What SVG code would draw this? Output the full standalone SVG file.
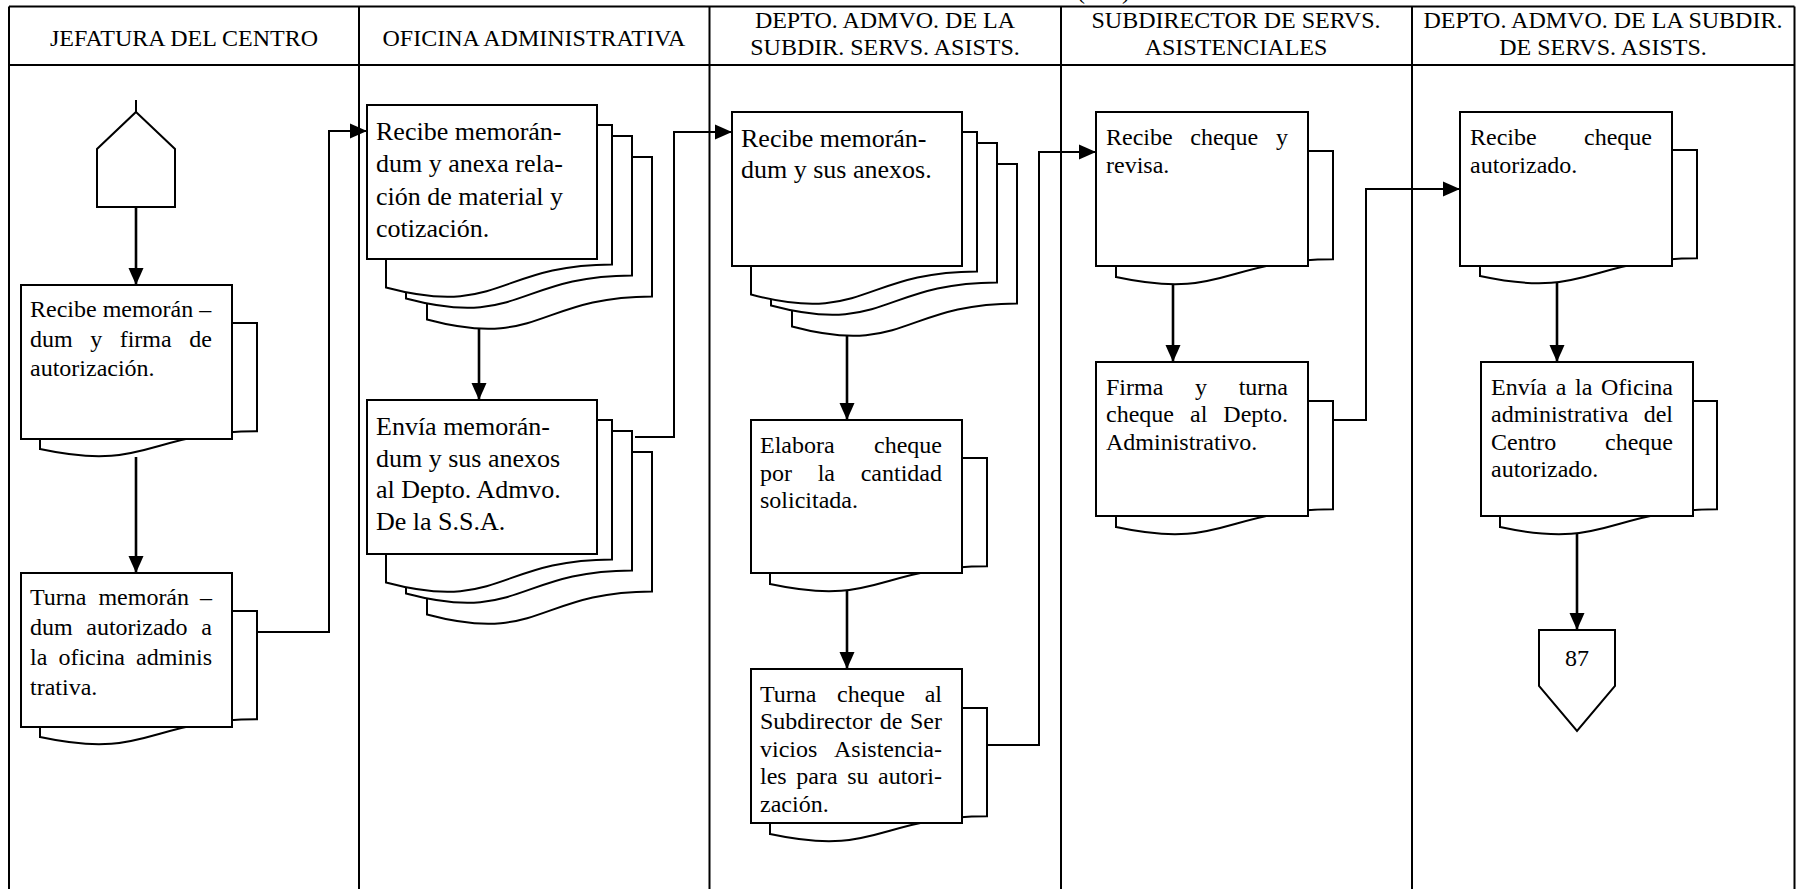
<svg xmlns="http://www.w3.org/2000/svg" width="1797" height="889" viewBox="0 0 1797 889">
<style>
.lane{fill:none;stroke:#000;stroke-width:2}
.box{fill:#fff;stroke:#000;stroke-width:2}
.conn{fill:none;stroke:#000;stroke-width:2}
.arr{fill:none;stroke:#000;stroke-width:2.6}
text{font-family:"Liberation Serif","Times New Roman",serif;fill:#000}
.th{font-size:24px;text-anchor:middle}
.t{font-size:24px}
.tb{font-size:26px}
</style>
<defs>
<marker id="ah" markerUnits="userSpaceOnUse" markerWidth="19" markerHeight="16" refX="17" refY="8" orient="auto">
<path d="M0,0.5 L17,8 L0,15.5 Z" fill="#000"/>
</marker>
</defs>
<rect width="1797" height="889" fill="#fff"/>
<g id="table">
<path class="lane" d="M9,6.5 H1794.5 M9,65 H1794.5 M9,6.5 V889 M359,6.5 V889 M709.5,6.5 V889 M1061,6.5 V889 M1412,6.5 V889 M1794.5,6.5 V889"/>
<text class="th" x="184" y="46">JEFATURA DEL CENTRO</text>
<text class="th" x="534" y="46">OFICINA ADMINISTRATIVA</text>
<text class="th" x="885" y="28">DEPTO. ADMVO. DE LA</text>
<text class="th" x="885" y="55">SUBDIR. SERVS. ASISTS.</text>
<text class="th" x="1236" y="28">SUBDIRECTOR DE SERVS.</text>
<text class="th" x="1236" y="55">ASISTENCIALES</text>
<text class="th" x="1603" y="28">DEPTO. ADMVO. DE LA SUBDIR.</text>
<text class="th" x="1603" y="55">DE SERVS. ASISTS.</text>
<text class="t" x="1077" y="-1">(<tspan x="1122">)</tspan></text>
</g>
<g id="connectors">
<path class="conn" d="M136,100 V116"/>
<path class="arr" d="M136,207 V285" marker-end="url(#ah)"/>
<path class="arr" d="M136,457 V573" marker-end="url(#ah)"/>
<path class="conn" d="M251,632 H329 V131 H367" marker-end="url(#ah)"/>
<path class="arr" d="M479,328 V400" marker-end="url(#ah)"/>
<path class="conn" d="M635,437 H674 V132 H732" marker-end="url(#ah)"/>
<path class="arr" d="M847,336 V420" marker-end="url(#ah)"/>
<path class="arr" d="M847,591 V669" marker-end="url(#ah)"/>
<path class="conn" d="M987,745 H1039 V152 H1096" marker-end="url(#ah)"/>
<path class="arr" d="M1173,284 V362" marker-end="url(#ah)"/>
<path class="conn" d="M1333,420 H1366 V189 H1460" marker-end="url(#ah)"/>
<path class="arr" d="M1557,283 V362" marker-end="url(#ah)"/>
<path class="arr" d="M1577,533 V630" marker-end="url(#ah)"/>
</g>
<g id="start">
<path class="box" d="M136,112 L175,149 V207 H97 V149 Z"/>
</g>
<g id="n1">
<path class="box" d="M40,323 H257 V431.3 C148.5,431.3 148.5,472.5 40,449.1 Z"/>
<rect class="box" x="21" y="285" width="211" height="154"/>
<text class="t" y="317"><tspan x="30">Recibe memorán –</tspan></text>
<text class="t" y="346.5"><tspan x="30">dum</tspan><tspan x="90.2">y</tspan><tspan x="119.7">firma</tspan><tspan x="189.3">de</tspan></text>
<text class="t" x="30" y="376">autorización.</text>
</g>
<g id="n2">
<path class="box" d="M40,611 H257 V719.3 C148.5,719.3 148.5,760.5 40,737.1 Z"/>
<rect class="box" x="21" y="573" width="211" height="154"/>
<text class="t" y="605"><tspan x="30">Turna</tspan><tspan x="98.4">memorán</tspan><tspan x="200">–</tspan></text>
<text class="t" y="635"><tspan x="30">dum</tspan><tspan x="86.3">autorizado</tspan><tspan x="201.3">a</tspan></text>
<text class="t" y="665"><tspan x="30">la</tspan><tspan x="58.4">oficina</tspan><tspan x="136">adminis</tspan></text>
<text class="t" x="30" y="695">trativa.</text>
</g>
<g id="n3">
<path class="box" d="M427,157 H652 V296.5 C539.5,296.5 539.5,349.7 427,319.5 Z"/>
<path class="box" d="M406,136 H632 V275.5 C519,275.5 519,328.7 406,298.5 Z"/>
<path class="box" d="M386,125 H612 V264.5 C499,264.5 499,317.7 386,287.5 Z"/>
<rect class="box" x="367" y="105" width="230" height="154"/>
<text class="tb" x="376" y="140">Recibe memorán-</text>
<text class="tb" x="376" y="172">dum y anexa rela-</text>
<text class="tb" x="376" y="204.5">ción de material y</text>
<text class="tb" x="376" y="237">cotización.</text>
</g>
<g id="n4">
<path class="box" d="M427,452 H652 V591.5 C539.5,591.5 539.5,644.7 427,614.5 Z"/>
<path class="box" d="M406,431 H632 V570.5 C519,570.5 519,623.7 406,593.5 Z"/>
<path class="box" d="M386,420 H612 V559.5 C499,559.5 499,612.7 386,582.5 Z"/>
<rect class="box" x="367" y="400" width="230" height="154"/>
<text class="tb" x="376" y="435">Envía memorán-</text>
<text class="tb" x="376" y="466.5">dum y sus anexos</text>
<text class="tb" x="376" y="498">al Depto. Admvo.</text>
<text class="tb" x="376" y="529.5">De la S.S.A.</text>
</g>
<g id="n5">
<path class="box" d="M792,164 H1017 V303.5 C904.5,303.5 904.5,356.7 792,326.5 Z"/>
<path class="box" d="M771,143 H997 V282.5 C884,282.5 884,335.7 771,305.5 Z"/>
<path class="box" d="M751,132 H977 V271.5 C864,271.5 864,324.7 751,294.5 Z"/>
<rect class="box" x="732" y="112" width="230" height="154"/>
<text class="tb" x="741" y="146.5">Recibe memorán-</text>
<text class="tb" x="741" y="177.5">dum y sus anexos.</text>
</g>
<g id="n6">
<path class="box" d="M770,458 H987 V566.3 C878.5,566.3 878.5,607.5 770,584.1 Z"/>
<rect class="box" x="751" y="420" width="211" height="153"/>
<text class="t" y="453"><tspan x="760">Elabora</tspan><tspan x="874">cheque</tspan></text>
<text class="t" y="481"><tspan x="760">por</tspan><tspan x="817.7">la</tspan><tspan x="860.7">cantidad</tspan></text>
<text class="t" x="760" y="508">solicitada.</text>
</g>
<g id="n7">
<path class="box" d="M770,708 H987 V816.3 C878.5,816.3 878.5,857.5 770,834.1 Z"/>
<rect class="box" x="751" y="669" width="211" height="154"/>
<text class="t" y="702"><tspan x="760">Turna</tspan><tspan x="837">cheque</tspan><tspan x="924.7">al</tspan></text>
<text class="t" y="729"><tspan x="760">Subdirector</tspan><tspan x="879.7">de</tspan><tspan x="910">Ser</tspan></text>
<text class="t" y="757"><tspan x="760">vicios</tspan><tspan x="834">Asistencia-</tspan></text>
<text class="t" y="784"><tspan x="760">les</tspan><tspan x="796.3">para</tspan><tspan x="847.2">su</tspan><tspan x="878">autori-</tspan></text>
<text class="t" x="760" y="812">zación.</text>
</g>
<g id="n8">
<path class="box" d="M1116,151 H1333 V259.3 C1224.5,259.3 1224.5,300.5 1116,277.1 Z"/>
<rect class="box" x="1096" y="112" width="212" height="154"/>
<text class="t" y="145"><tspan x="1106">Recibe</tspan><tspan x="1190.3">cheque</tspan><tspan x="1276">y</tspan></text>
<text class="t" x="1106" y="173">revisa.</text>
</g>
<g id="n9">
<path class="box" d="M1116,401 H1333 V509.3 C1224.5,509.3 1224.5,550.5 1116,527.1 Z"/>
<rect class="box" x="1096" y="362" width="212" height="154"/>
<text class="t" y="395"><tspan x="1106">Firma</tspan><tspan x="1195">y</tspan><tspan x="1238.7">turna</tspan></text>
<text class="t" y="422"><tspan x="1106">cheque</tspan><tspan x="1190">al</tspan><tspan x="1223.3">Depto.</tspan></text>
<text class="t" x="1106" y="450">Administrativo.</text>
</g>
<g id="n10">
<path class="box" d="M1480,150 H1697 V258.3 C1588.5,258.3 1588.5,299.5 1480,276.1 Z"/>
<rect class="box" x="1460" y="112" width="212" height="154"/>
<text class="t" y="145"><tspan x="1470">Recibe</tspan><tspan x="1584">cheque</tspan></text>
<text class="t" x="1470" y="173">autorizado.</text>
</g>
<g id="n11">
<path class="box" d="M1500,401 H1717 V509.3 C1608.5,509.3 1608.5,550.5 1500,527.1 Z"/>
<rect class="box" x="1481" y="362" width="212" height="154"/>
<text class="t" y="395"><tspan x="1491">Envía</tspan><tspan x="1555.7">a</tspan><tspan x="1575.1">la</tspan><tspan x="1601">Oficina</tspan></text>
<text class="t" y="422"><tspan x="1491">administrativa</tspan><tspan x="1643.7">del</tspan></text>
<text class="t" y="450"><tspan x="1491">Centro</tspan><tspan x="1605">cheque</tspan></text>
<text class="t" x="1491" y="477">autorizado.</text>
</g>
<g id="end87">
<path class="box" d="M1539,630 H1615 V686 L1577,731 L1539,686 Z"/>
<text class="th" x="1577" y="666">87</text>
</g>
</svg>
